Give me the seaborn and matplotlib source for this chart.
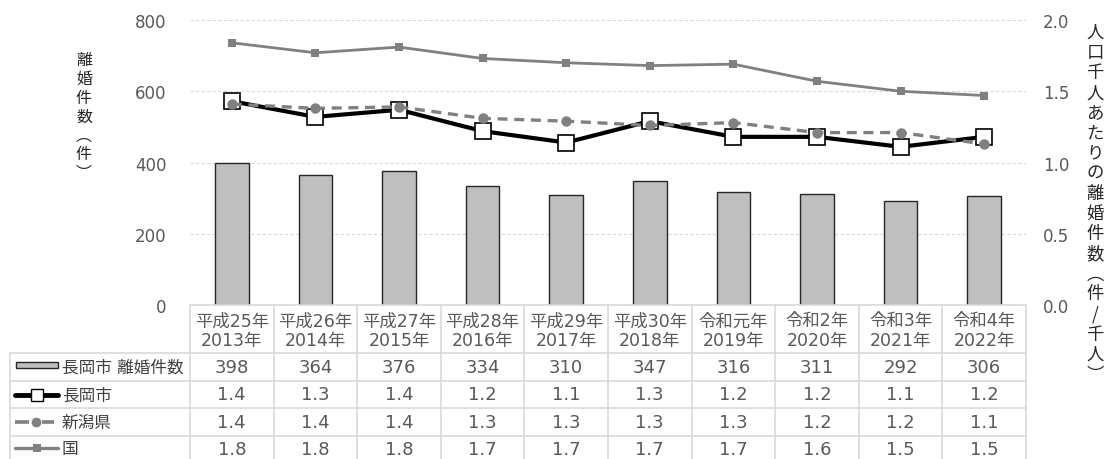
import numpy as np
import pandas as pd
import matplotlib
matplotlib.use("Agg")
import matplotlib.pyplot as plt
import seaborn as sns

# data
era_labels = ["平成25年", "平成26年", "平成27年", "平成28年", "平成29年",
              "平成30年", "令和元年", "令和2年", "令和3年", "令和4年"]
year_labels = ["2013年", "2014年", "2015年", "2016年", "2017年",
               "2018年", "2019年", "2020年", "2021年", "2022年"]
divorces = [398, 364, 376, 334, 310, 347, 316, 311, 292, 306]
nagaoka_rate = [1.43, 1.32, 1.37, 1.22, 1.14, 1.29, 1.18, 1.18, 1.11, 1.18]
niigata_rate = [1.41, 1.38, 1.39, 1.31, 1.29, 1.26, 1.28, 1.21, 1.21, 1.13]
japan_rate = [1.84, 1.77, 1.81, 1.73, 1.70, 1.68, 1.69, 1.57, 1.50, 1.47]
# values printed in the table (rounded)
nagaoka_tbl = ["1.4", "1.3", "1.4", "1.2", "1.1", "1.3", "1.2", "1.2", "1.1", "1.2"]
niigata_tbl = ["1.4", "1.4", "1.4", "1.3", "1.3", "1.3", "1.3", "1.2", "1.2", "1.1"]
japan_tbl = ["1.8", "1.8", "1.8", "1.7", "1.7", "1.7", "1.7", "1.6", "1.5", "1.5"]

sns.set_style("white")
# DejaVu for the wide digits, Noto CJK for the Japanese glyphs
plt.rcParams['font.family'] = ['DejaVu Sans', 'Noto Sans CJK JP']

W, H = 1114, 460
TXT = "#595959"
GRID = "#d9d9d9"
GRAY = "#808080"

fig = plt.figure(figsize=(W / 100, H / 100), dpi=100)

# plot area in pixels
x0, x1, ytop, ybot = 190, 1026, 21, 306
ax = fig.add_axes([x0 / W, 1 - ybot / H, (x1 - x0) / W, (ybot - ytop) / H])

df = pd.DataFrame({"year": year_labels, "count": divorces})
sns.barplot(data=df, x="year", y="count", ax=ax, color="#bfbfbf",
            edgecolor="#262626", linewidth=1, width=0.4, saturation=1, zorder=3)
ax.set_xlim(-0.5, 9.5)
ax.set_ylim(0, 800)
ax.set_yticks([0, 200, 400, 600, 800])
ax.yaxis.grid(True, color=GRID, linestyle=(0, (3, 2)), linewidth=0.8, zorder=0)
ax.set_axisbelow(True)
ax.tick_params(axis="y", length=0, pad=17, labelsize=12, labelcolor=TXT)
ax.set_xticks([])
ax.set_xlabel("")
ax.set_ylabel("")
for s in ax.spines.values():
    s.set_visible(False)

ax2 = ax.twinx()
xs = np.arange(len(year_labels))
sns.lineplot(x=xs, y=nagaoka_rate, ax=ax2, color="black", linewidth=3,
             marker="s", markersize=11, markerfacecolor="white",
             markeredgecolor="black", markeredgewidth=1.2, zorder=4)
sns.lineplot(x=xs, y=niigata_rate, ax=ax2, color=GRAY, linewidth=2.4,
             dashes=False, linestyle=(0, (3, 2)), marker="o", markersize=7.5,
             markeredgewidth=0, zorder=5)
sns.lineplot(x=xs, y=japan_rate, ax=ax2, color=GRAY, linewidth=2,
             marker="s", markersize=6, markeredgewidth=0, zorder=5)
ax2.set_ylim(0, 2.0)
ax2.set_yticks([0, 0.5, 1.0, 1.5, 2.0])
ax2.set_yticklabels(["0.0", "0.5", "1.0", "1.5", "2.0"])
ax2.tick_params(axis="y", length=0, pad=12, labelsize=12, labelcolor=TXT)
ax2.set_xlim(-0.5, 9.5)
for s in ax2.spines.values():
    s.set_visible(False)

# axis titles, stacked vertically
fig.text(84 / W, 1 - 117 / H, "\n".join("離婚件数︵件︶"), ha="center",
         va="center", fontsize=11.5, color="#262626", linespacing=1.15,
         family="Noto Sans CJK JP")
fig.text(1095 / W, 1 - 204 / H, "\n".join("人口千人あたりの離婚件数︵件/千人︶"),
         ha="center", va="center", fontsize=12.5, color="#262626",
         linespacing=1.15, family="Noto Sans CJK JP")

# data table below the chart, drawn in pixel coordinates
tab = fig.add_axes([0, 0, 1, 1])
tab.set_xlim(0, W)
tab.set_ylim(H, 0)
tab.axis("off")

cw = (x1 - x0) / 10
col_edges = [x0 + cw * i for i in range(11)]
row_edges = [354, 381.7, 409.3, 436.7, 470]
lc = dict(color=GRID, linewidth=1.2)
tab.plot([x0, x1], [ybot, ybot], **lc)
for y in row_edges[:-1]:
    tab.plot([10, x1], [y, y], **lc)
tab.plot([10, 10], [354, H], **lc)
for xe in col_edges:
    tab.plot([xe, xe], [ybot, H], **lc)

for i in range(10):
    cx = x0 + cw * (i + 0.5)
    tab.text(cx, 331, era_labels[i] + "\n" + year_labels[i], ha="center",
             va="center", fontsize=12.5, color=TXT, linespacing=1.1)
    rows = [str(divorces[i]), nagaoka_tbl[i], niigata_tbl[i], japan_tbl[i]]
    for r, val in enumerate(rows):
        cy = (row_edges[r] + row_edges[r + 1]) / 2 if r < 3 else 450
        tab.text(cx, cy, val, ha="center", va="center", fontsize=13, color=TXT)

# legend keys in the first column
row_y = [368, 395.5, 423, 449]
tab.add_patch(plt.Rectangle((16, 363), 42, 6, facecolor="#bfbfbf",
                            edgecolor="#262626", linewidth=1))
tab.plot([15, 58], [row_y[1]] * 2, color="black", linewidth=3.5)
tab.plot([37], [row_y[1]], marker="s", markersize=8, markerfacecolor="white",
         markeredgecolor="black", markeredgewidth=1)
tab.plot([15, 29], [row_y[2]] * 2, color=GRAY, linewidth=2.6,
         solid_capstyle="butt")
tab.plot([42, 54], [row_y[2]] * 2, color=GRAY, linewidth=2.6,
         solid_capstyle="butt")
tab.plot([36], [row_y[2]], marker="o", markersize=7, color=GRAY,
         markeredgewidth=0)
tab.plot([15, 58], [row_y[3]] * 2, color=GRAY, linewidth=2.4)
tab.plot([37], [row_y[3]], marker="s", markersize=6, color=GRAY,
         markeredgewidth=0)
legend_names = ["長岡市 離婚件数", "長岡市", "新潟県", "国"]
for name, y in zip(legend_names, row_y):
    tab.text(62, y, name, ha="left", va="center", fontsize=12, color="#404040")

fig.savefig("out.png", dpi=100)
